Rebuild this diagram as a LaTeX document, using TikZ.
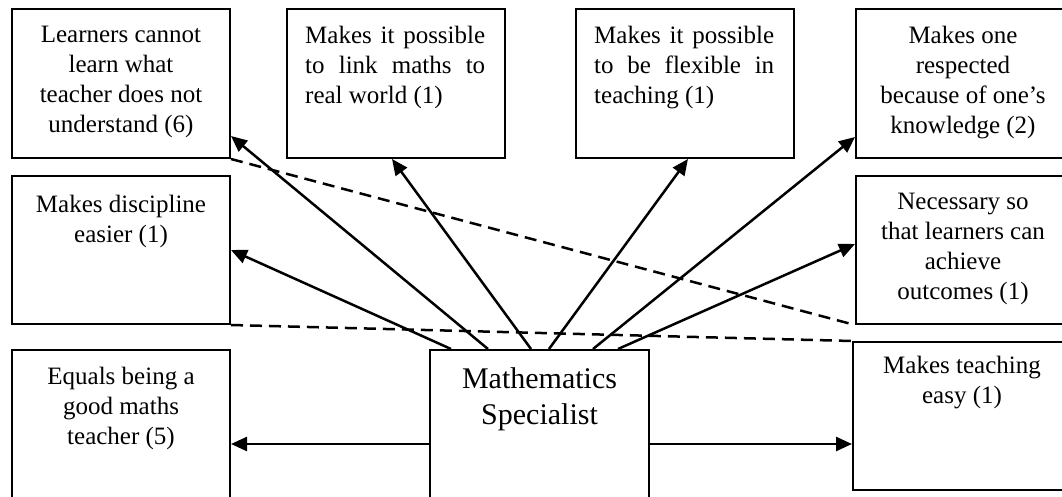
\documentclass[tikz,border=0pt]{standalone}
\usepackage{fontspec}
\setmainfont{Liberation Serif}
\usetikzlibrary{arrows.meta}
\begin{document}
\begin{tikzpicture}[x=1pt,y=-1pt,
  box/.style={draw,line width=2pt,rectangle,anchor=north west,inner sep=0pt},
  txt/.style={anchor=north,align=center,inner sep=0pt,font=\fontsize{25}{30}\selectfont},
  jtxt/.style={anchor=north west,align=left,inner sep=0pt,font=\fontsize{25}{30}\selectfont},
  arr/.style={line width=2.5pt,-{Triangle[length=16pt,width=14pt]}},
  dsh/.style={line width=2.5pt,dash pattern=on 12pt off 7pt}]
\useasboundingbox (0,0) rectangle (1062,497);
\clip (0,0) rectangle (1062,497);
\fill[white] (0,0) rectangle (1062,497);
% boxes
\node[box,minimum width=218pt,minimum height=149pt] (b1) at (11,8) {};
\node[box,minimum width=218pt,minimum height=149pt] (b2) at (286,8) {};
\node[box,minimum width=218pt,minimum height=149pt] (b3) at (575,8) {};
\node[box,minimum width=214pt,minimum height=149pt] (b4) at (855,8) {};
\node[box,minimum width=218pt,minimum height=148pt] (b5) at (11,175) {};
\node[box,minimum width=214pt,minimum height=148pt] (b6) at (855,175) {};
\node[box,minimum width=218pt,minimum height=188pt] (b7) at (11,349) {};
\node[box,minimum width=219pt,minimum height=188pt] (m) at (429,349) {};
\node[box,minimum width=218pt,minimum height=148pt] (b9) at (852,341) {};
% texts
\node[txt] (t1) at ([yshift=-18pt]b1.north) {Learners cannot\\learn what\\teacher does not\\understand (6)};
\node[jtxt] (t2) at ([xshift=19pt,yshift=-18pt]b2.north west) {\makebox[180pt][s]{Makes it possible}\\\makebox[180pt][s]{to link maths to}\\real world (1)};
\node[jtxt] (t3) at ([xshift=19pt,yshift=-18pt]b3.north west) {\makebox[180pt][s]{Makes it possible}\\\makebox[180pt][s]{to be flexible in}\\teaching (1)};
\node[txt] (t4) at ([yshift=-18pt]b4.north) {Makes one\\respected\\because of one’s\\knowledge (2)};
\node[txt] (t5) at ([yshift=-20pt]b5.north) {Makes discipline\\easier (1)};
\node[txt] (t6) at ([yshift=-18pt]b6.north) {Necessary so\\that learners can\\achieve\\outcomes (1)};
\node[txt] (t7) at ([yshift=-18pt]b7.north) {Equals being a\\good maths\\teacher (5)};
\node[txt] (t9) at ([yshift=-15pt]b9.north) {Makes teaching\\easy (1)};
\node[txt,font=\fontsize{30}{36}\selectfont] (tm) at ([yshift=-18pt]m.north) {Mathematics\\Specialist};
% dashed connectors
\draw[dsh] (b1.south east) -- (b6.south west);
\draw[dsh] (b5.south east) -- (b9.north west);
% arrows
\draw[arr] ([xshift=-88.5pt]m.north) -- (b5.east);
\draw[arr] ([xshift=-51.5pt]m.north) -- ([yshift=-52.5pt]b1.east);
\draw[arr] ([xshift=-8.5pt]m.north) -- ([xshift=-4pt]b2.south);
\draw[arr] ([xshift=9.5pt]m.north) -- ([xshift=3pt]b3.south);
\draw[arr] ([xshift=53.5pt]m.north) -- ([yshift=-53.5pt]b4.west);
\draw[arr] ([xshift=78.5pt]m.north) -- ([yshift=6pt]b6.west);
\draw[arr] (m.west) -- (b7.east);
\draw[arr] (m.east) -- (b9.west |- m.east);
\end{tikzpicture}
\end{document}
